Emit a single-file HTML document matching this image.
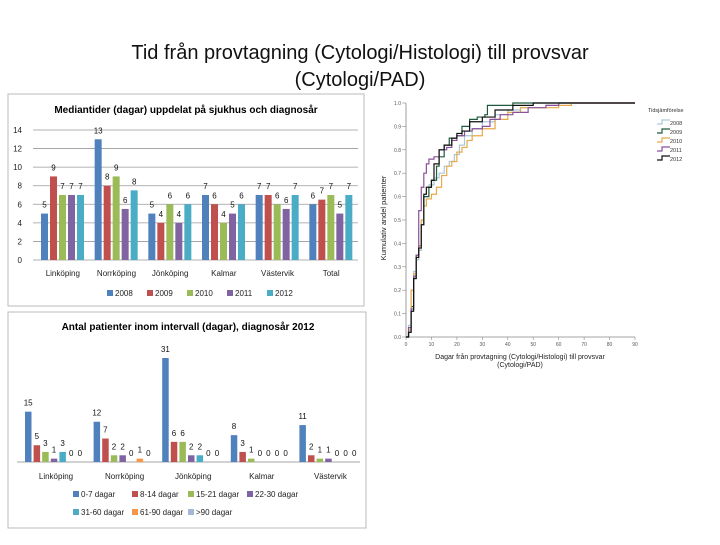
<!DOCTYPE html>
<html><head><meta charset="utf-8"><style>
body{margin:0;background:#fff;width:720px;height:540px;overflow:hidden;font-family:"Liberation Sans",sans-serif}
svg text{font-family:"Liberation Sans",sans-serif}
</style></head><body>
<svg id="s" width="720" height="540" xmlns="http://www.w3.org/2000/svg">
<text x="360" y="59" text-anchor="middle" font-size="20" fill="#111">Tid från provtagning (Cytologi/Histologi) till provsvar</text>
<text x="360" y="86" text-anchor="middle" font-size="20" fill="#111">(Cytologi/PAD)</text>
<g id="c1"></g>
<g id="c2"></g>
<g id="c3"></g>
</svg>
<script>
// Chart 1 data
const c1Categories=["Linköping","Norrköping","Jönköping","Kalmar","Västervik","Total"];
const c1Series=["2008","2009","2010","2011","2012"];
const c1V2008=[5,13,5,7,7,6];
const c1V2009=[9,8,4,6,7,6.5];
const c1V2010=[7,9,6,4,6,7];
const c1V2011=[7,5.5,4,5,5.5,5];
const c1V2012=[7,7.5,6,6,7,7];
const c1Ticks=[0,2,4,6,8,10,12,14];
// Chart 2 data
const c2Categories=["Linköping","Norrköping","Jönköping","Kalmar","Västervik"];
const c2Series=["0-7 dagar","8-14 dagar","15-21 dagar","22-30 dagar","31-60 dagar","61-90 dagar",">90 dagar"];
const c2S1=[15,12,31,8,11];
const c2S2=[5,7,6,3,2];
const c2S3=[3,2,6,1,1];
const c2S4=[1,2,2,0,1];
const c2S5=[3,0,2,0,0];
const c2S6=[0,1,0,0,0];
const c2S7=[0,0,0,0,0];
// Chart 3 data
const c3Years=["2008","2009","2010","2011","2012"];
const c3D2008=[0,1,2,3,4,5,6,7,9,11,13,15,17,19,21,23,26,30,35,40,45,55,60,90];
const c3P2008=[0,.05,.2,.28,.33,.37,.5,.6,.65,.68,.7,.73,.75,.78,.82,.86,.89,.92,.95,.97,.98,.99,1,1];
const c3D2009=[0,1,2,3,4,5,6,7,9,10,12,13,15,17,20,22,25,28,31,32,42,90];
const c3P2009=[0,.02,.13,.25,.35,.39,.48,.6,.64,.67,.73,.77,.82,.85,.86,.9,.93,.94,.95,.99,1,1];
const c3D2010=[0,1,2,3,4,5,6,7,8,10,12,14,16,18,20,22,24,26,30,35,40,45,60,65,90];
const c3P2010=[0,.03,.2,.27,.34,.39,.5,.56,.59,.61,.64,.69,.73,.75,.79,.81,.84,.86,.89,.93,.96,.98,.99,1,1];
const c3D2011=[0,1,2,3,4,5,6,7,8,9,11,13,16,18,20,23,26,30,33,37,42,48,55,60,90];
const c3P2011=[0,.04,.12,.26,.35,.54,.64,.7,.74,.76,.77,.8,.81,.84,.86,.88,.89,.9,.93,.95,.96,.98,.99,1,1];
const c3D2012=[0,1,2,3,4,5,6,7,8,10,11,13,15,18,20,22,25,30,35,42,50,90];
const c3P2012=[0,.02,.11,.25,.34,.38,.48,.61,.64,.67,.74,.8,.82,.85,.87,.88,.92,.94,.97,.99,1,1];
const c3YTicks=[0,.1,.2,.3,.4,.5,.6,.7,.8,.9,1];
const c3XTicks=[0,10,20,30,40,50,60,70,80,90];

const NS="http://www.w3.org/2000/svg";
function mk(p,t,a,txt){const e=document.createElementNS(NS,t);for(const k in a)e.setAttribute(k,a[k]);if(txt!==undefined)e.textContent=txt;p.appendChild(e);return e;}
const cols=["#4f81bd","#c0504d","#9bbb59","#8064a2","#4bacc6","#f79646","#a5b6d9"];

// ---- Chart 1
(function(){
const g=document.getElementById('c1');
let r=mk(g,'rect',{x:8,y:94,width:356,height:212,fill:'#fff',stroke:'#bbb'});

let t=mk(g,'text',{x:186,y:113,'text-anchor':'middle','font-size':10,'font-weight':'bold'},'Mediantider (dagar) uppdelat på sjukhus och diagnosår');

const x0=36,x1=358,y0=260,y14=130;
const Y=v=>y0-(v/14)*(y0-y14);
c1Ticks.forEach(v=>{
  let l=mk(g,'line',{x1:33,x2:x1,y1:Y(v),y2:Y(v),stroke:'#999','stroke-width':0.8});
  
  let tt=mk(g,'text',{x:22,y:Y(v)+3,'text-anchor':'end','font-size':8,fill:'#222'},v);
  
});
const gw=(x1-x0)/c1Categories.length;
const vals=[c1V2008,c1V2009,c1V2010,c1V2011,c1V2012];
c1Categories.forEach((c,i)=>{
  const cx=x0+gw*(i+0.5);
  let tt=mk(g,'text',{x:cx,y:276,'text-anchor':'middle','font-size':8,fill:'#222'},c);
  
  vals.forEach((arr,s)=>{
    const bx=cx-gw/2+5+s*9,v=arr[i];
    let b=mk(g,'rect',{x:bx,y:Y(v),width:7,height:y0-Y(v),fill:cols[s]});
    
    let lb=mk(g,'text',{x:bx+3.5,y:Y(v)-6,'text-anchor':'middle','font-size':8,fill:'#111'},Math.round(v));
    
  });
});
c1Series.forEach((s,i)=>{
  const lx=107+i*40;
  let sw=mk(g,'rect',{x:lx,y:290,width:6,height:6,fill:cols[i]});
  
  let tt=mk(g,'text',{x:lx+8,y:296,'font-size':8,fill:'#222'},s);
  
});
})();

// ---- Chart 2
(function(){
const g=document.getElementById('c2');
let r=mk(g,'rect',{x:8,y:312,width:358,height:216,fill:'#fff',stroke:'#bbb'});

let t=mk(g,'text',{x:188,y:330,'text-anchor':'middle','font-size':10,'font-weight':'bold'},'Antal patienter inom intervall (dagar), diagnosår 2012');

const y0=462,k=104/31,x0=17,gw=68.6;
const Y=v=>y0-v*k;
let ax=mk(g,'line',{x1:17,x2:360,y1:y0,y2:y0,stroke:'#888','stroke-width':0.8});

const vals=[c2S1,c2S2,c2S3,c2S4,c2S5,c2S6,c2S7];
c2Categories.forEach((c,i)=>{
  const gx=x0+gw*i+8;
  let tt=mk(g,'text',{x:gx+31,y:479,'text-anchor':'middle','font-size':8,fill:'#222'},c);
  
  vals.forEach((arr,s)=>{
    const bx=gx+s*8.6,v=arr[i];
    let b=mk(g,'rect',{x:bx,y:Y(v),width:6.5,height:v*k,fill:cols[s]});
    
    let lb=mk(g,'text',{x:bx+3.2,y:Y(v)-6,'text-anchor':'middle','font-size':8,fill:'#111'},v);
    
  });
});
const lpos=[[73,497],[132,497],[188,497],[247,497],[73,515],[132,515],[188,515]];
c2Series.forEach((s,i)=>{
  const [lx,ly]=lpos[i];
  let sw=mk(g,'rect',{x:lx,y:ly-6,width:6,height:6,fill:cols[i]});
  
  let tt=mk(g,'text',{x:lx+8,y:ly,'font-size':8,fill:'#222'},s);
  
});
})();

// ---- Chart 3
(function(){
const g=document.getElementById('c3');
const X=d=>406+d/90*(635-406), Y=p=>337-p*(337-103);
let ax=mk(g,'path',{d:`M406,103 L406,337 L635,337`,fill:'none',stroke:'#888','stroke-width':0.8});

c3YTicks.forEach(v=>{
  let l=mk(g,'line',{x1:402,x2:406,y1:Y(v),y2:Y(v),stroke:'#888','stroke-width':0.6});
  
  let tt=mk(g,'text',{x:401,y:Y(v)+2,'text-anchor':'end','font-size':5,fill:'#555'},v.toFixed(1));
  
});
c3XTicks.forEach(v=>{
  let l=mk(g,'line',{x1:X(v),x2:X(v),y1:337,y2:340,stroke:'#888','stroke-width':0.6});
  
  let tt=mk(g,'text',{x:X(v),y:346,'text-anchor':'middle','font-size':5,fill:'#555'},v);
  
});
let yt=mk(g,'text',{transform:'translate(386,218) rotate(-90)','text-anchor':'middle','font-size':7.5,fill:'#222'},'Kumulativ andel patienter');

let xt=mk(g,'text',{x:520,y:359,'text-anchor':'middle','font-size':7,fill:'#222'},'Dagar från provtagning (Cytologi/Histologi) till provsvar');

let xt2=mk(g,'text',{x:520,y:367,'text-anchor':'middle','font-size':7,fill:'#222'},'(Cytologi/PAD)');

const lc=["#a9c9d6","#1f5c3e","#e8a94a","#8b4f9c","#111"];
const D=[c3D2008,c3D2009,c3D2010,c3D2011,c3D2012],P=[c3P2008,c3P2009,c3P2010,c3P2011,c3P2012];
D.forEach((ds,s)=>{
  let d=`M${X(ds[0])},${Y(P[s][0])}`;
  for(let i=1;i<ds.length;i++){d+=` H${X(ds[i])} V${Y(P[s][i])}`;}
  let p=mk(g,'path',{d:d,fill:'none',stroke:lc[s],'stroke-width':1.2});
  
});
let lt=mk(g,'text',{x:648,y:112,'font-size':5.5,fill:'#333'},'Tidsjämförelse');

c3Years.forEach((y,i)=>{
  const ly=124+i*9;
  let ic=mk(g,'path',{d:`M657,${ly} H662 V${ly-4} H670`,fill:'none',stroke:lc[i],'stroke-width':1.2});
  
  let tt=mk(g,'text',{x:670,y:ly+1,'font-size':5.5,fill:'#333'},y);
  
});
})();
</script>
</body></html>
